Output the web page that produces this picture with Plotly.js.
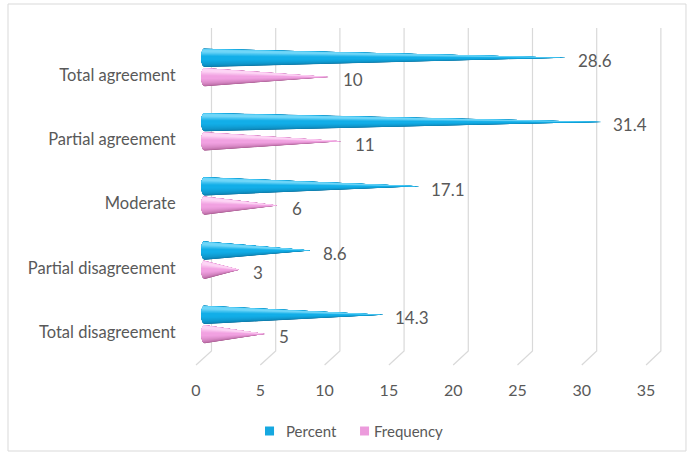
<!DOCTYPE html>
<html>
<head>
<meta charset="utf-8">
<script src="https://cdn.plot.ly/plotly-3.0.1.min.js"></script>
<style>
  html, body { margin: 0; padding: 0; background: #ffffff; }
  #chart { width: 689px; height: 456px; }
</style>
</head>
<body>
<div id="chart"></div>
<script>
// Survey responses: percent and frequency per agreement level
const categories = ['Total agreement', 'Partial agreement', 'Moderate', 'Partial disagreement', 'Total disagreement'];
const percent = [28.6, 31.4, 17.1, 8.6, 14.3];
const frequency = [10, 11, 6, 3, 5];
const xTicks = [0, 5, 10, 15, 20, 25, 30, 35];
const seriesNames = ['Percent', 'Frequency'];
const seriesColors = ['#16a8e0', '#ec9bdc'];

const FONT = 'Lato, "Open Sans", sans-serif';
const TEXT = '#595959';
const GRID = '#d9d9d9';

// category slot (top row = highest slot value)
const slot = i => categories.length - 1 - i;

// cone geometry in axis units
const H = 0.145;        // half height of the cone base
const RX = 0.3;         // horizontal radius of the elliptical base
const BLUE_OFF = 0.27;  // percent cone sits above the category centre
const PINK_OFF = -0.03; // frequency cone sits just below

function arc(yc, a0, a1, n) {
  const xs = [], ys = [];
  for (let k = 0; k <= n; k++) {
    const t = (a0 + (a1 - a0) * k / n) * Math.PI / 180;
    xs.push(RX + RX * Math.cos(t));
    ys.push(yc + H * Math.sin(t));
  }
  return [xs, ys];
}

// one polygon (closed toward the tip) per value, covering an angle span of the base
function coneLayer(values, offset, a0, a1) {
  const x = [], y = [];
  values.forEach((v, i) => {
    const yc = slot(i) + offset;
    const [ax, ay] = arc(yc, a0, a1, 20);
    x.push(v, ...ax, v, null);
    y.push(yc, ...ay, yc, null);
  });
  return { x, y };
}

function layerTrace(values, offset, a0, a1, color) {
  const p = coneLayer(values, offset, a0, a1);
  return {
    x: p.x, y: p.y, type: 'scatter', mode: 'lines', fill: 'toself',
    fillcolor: color, line: { width: 0, color: color },
    hoverinfo: 'skip', showlegend: false
  };
}

function hex(c) { return [1, 3, 5].map(k => parseInt(c.slice(k, k + 2), 16)); }
function mix(a, b, f) {
  const A = hex(a), B = hex(b);
  return 'rgb(' + A.map((v, k) => Math.round(v + (B[k] - v) * f)).join(',') + ')';
}

// smooth shading: stacked layers from the dark underside up to the body colour,
// then a soft highlight band on the upper flank
function coneTraces(values, offset, dark, body, light) {
  const out = [];
  const N = 10;
  for (let k = 0; k <= N; k++) {
    const f = k / N;
    out.push(layerTrace(values, offset, 90, 270 - 75 * f, mix(dark, body, Math.pow(f, 0.6))));
  }
  const M = 5;
  for (let k = 1; k <= M; k++) {
    const f = k / M;
    out.push(layerTrace(values, offset, 95 + 12 * f, 175 - 30 * f, mix(body, light, f)));
  }
  return out;
}

const traces = [
  ...coneTraces(percent, BLUE_OFF, '#0b6690', '#12aee8', '#70d6f8'),
  ...coneTraces(frequency, PINK_OFF, '#974a7e', '#f1a1e1', '#fdd5f5'),
  // empty trace so the floor-front tick axis is drawn
  { x: [], y: [], type: 'scatter', xaxis: 'x2', yaxis: 'y', showlegend: false, hoverinfo: 'skip' }
];

// value labels at the cone tips
const annotations = [];
percent.forEach((v, i) => annotations.push({
  x: v, y: slot(i) + BLUE_OFF, xref: 'x', yref: 'y', text: String(v),
  showarrow: false, xanchor: 'left', xshift: 10, yshift: -3,
  font: { family: FONT, size: 17, color: TEXT }
}));
frequency.forEach((v, i) => annotations.push({
  x: v, y: slot(i) + PINK_OFF, xref: 'x', yref: 'y', text: String(v),
  showarrow: false, xanchor: 'left', xshift: 12, yshift: -3,
  font: { family: FONT, size: 17, color: TEXT }
}));

// 3-D style gridlines: back wall verticals bending onto the floor front
const Y_TOP = 4.74, Y_BACK = -0.296, Y_FRONT = -0.514;
const shapes = xTicks.map(t => {
  const xb = 0.8235 + 1.00706 * t;
  const xf = -0.392 + 1.00863 * t;
  return {
    type: 'path', xref: 'x', yref: 'y', layer: 'below',
    path: `M ${xb} ${Y_TOP} L ${xb} ${Y_BACK} L ${xf} ${Y_FRONT}`,
    line: { color: GRID, width: 1.2 }
  };
});
// chart frame
shapes.push({
  type: 'rect', xref: 'paper', yref: 'paper',
  x0: -0.3714, x1: 1.0122, y0: -0.2515, y1: 1.071,
  line: { color: GRID, width: 1 }, fillcolor: 'rgba(0,0,0,0)', layer: 'below'
});

// legend row below the axis: colour keys and names
const keyX = [0.1531, 0.347];
const nameX = [0.1918, 0.3714];
seriesNames.forEach((n, k) => {
  shapes.push({
    type: 'rect', xref: 'paper', yref: 'paper',
    x0: keyX[k], x1: keyX[k] + 0.0184, y0: -0.2056, y1: -0.179,
    line: { width: 0 }, fillcolor: seriesColors[k]
  });
  annotations.push({
    x: nameX[k], y: -0.192, xref: 'paper', yref: 'paper', xanchor: 'left', yanchor: 'middle',
    showarrow: false, text: n, font: { family: FONT, size: 15, color: TEXT }
  });
});

const layout = {
  width: 689, height: 456,
  margin: { l: 190, r: 9, t: 28, b: 90, pad: 0 },
  paper_bgcolor: '#ffffff', plot_bgcolor: '#ffffff',
  font: { family: FONT, size: 15, color: TEXT },
  showlegend: false,
  xaxis: {
    range: [-0.863, 37.57], showgrid: false, zeroline: false,
    showticklabels: false, showline: false, ticks: '', fixedrange: true
  },
  xaxis2: {
    overlaying: 'x', anchor: 'y', side: 'bottom',
    range: [-0.4666, 37.636], tickvals: xTicks, ticktext: xTicks.map(String),
    showgrid: false, zeroline: false, showline: false,
    ticks: 'outside', ticklen: 10, tickcolor: 'rgba(0,0,0,0)',
    tickfont: { family: FONT, size: 16, color: TEXT }, fixedrange: true
  },
  yaxis: {
    range: [-0.529, 4.7315], tickvals: categories.map((c, i) => slot(i)), ticktext: categories,
    showgrid: false, zeroline: false, showline: false,
    ticks: 'outside', ticklen: 10, tickcolor: 'rgba(0,0,0,0)',
    tickfont: { family: FONT, size: 16.5, color: TEXT }, fixedrange: true
  },
  annotations: annotations,
  shapes: shapes
};

Plotly.newPlot('chart', traces, layout, { displayModeBar: false, staticPlot: true });
</script>
</body>
</html>
